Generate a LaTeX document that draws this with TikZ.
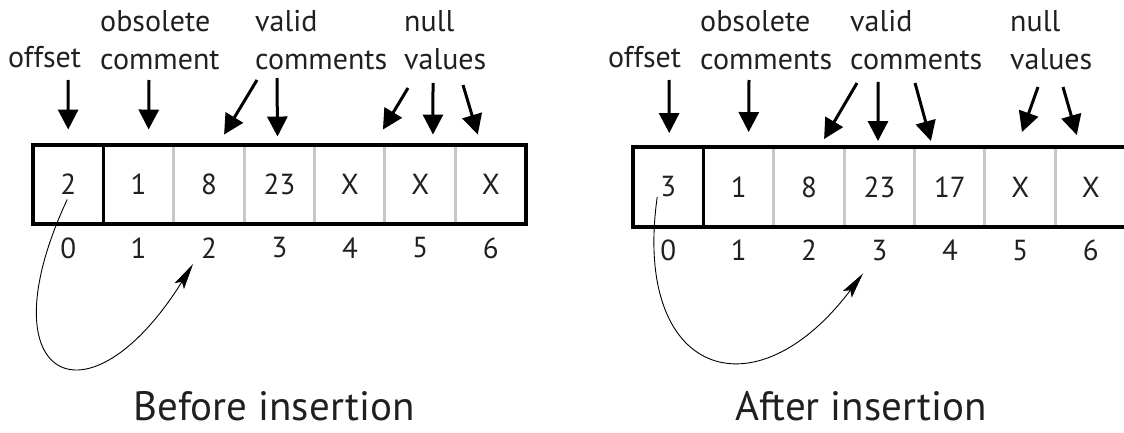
\documentclass[tikz,border=0pt]{standalone}
\usepackage{fontspec}
\setmainfont{PT Sans}
\usetikzlibrary{arrows.meta,positioning}
\definecolor{ink}{RGB}{35,31,32}
\definecolor{divgray}{RGB}{200,200,200}
\tikzset{
  cell/.style={minimum width=70.43pt,minimum height=79.5pt,inner sep=0pt,font=\fontsize{29}{32}\selectfont},
  idx/.style={inner sep=0pt,font=\fontsize{29}{32}\selectfont},
  lbl/.style={anchor=south west,align=left,inner sep=0pt,font=\fontsize{30}{38}\selectfont},
  ttl/.style={anchor=base,inner sep=0pt,font=\fontsize{41}{45}\selectfont},
  blk/.style={line width=3pt,-{Triangle[length=20pt,width=20pt]}},
  hop/.style={line width=0.9pt,-{Stealth[length=26pt,width=11pt,inset=5pt]}},
}
\begin{document}
\begin{tikzpicture}[x=1pt,y=1pt,text=ink]
  \useasboundingbox (0,0) rectangle (1124,432);
  % before insertion
  \foreach \v [count=\i from 0] in {2,1,8,23,X,X,X}
    \node[cell] (b\i) at ({33+70.43*(\i+0.5)},247.5) {\v};
  \foreach \i in {0,...,6}
    \node[idx,below=13pt of b\i] (bn\i) {\i};
  \foreach \i in {2,...,6}
    \draw[divgray,line width=3pt] (b\i.north west) -- (b\i.south west);
  \draw[line width=3pt] (b1.north west) -- (b1.south west);
  \draw[line width=4pt] (b0.north west) rectangle (b6.south east);
  \node[lbl] (boff) at (8,364) {offset};
  \node[lbl] (bobs) at (100,362) {obsolete\\comment};
  \node[lbl] (bval) at (255,362) {valid\\comments};
  \node[lbl] (bnul) at (404,362) {null\\values};
  \draw[blk] ([shift={(60,-12)}]boff.south west) -- ([shift={(0,15)}]b0.north);
  \draw[blk] ([shift={(49,-10)}]bobs.south west) -- ([shift={(10,15)}]b1.north);
  \draw[blk] ([shift={(2,-10)}]bval.south west) -- ([shift={(15,10)}]b2.north);
  \draw[blk] ([shift={(22,-8)}]bval.south west) -- ([shift={(-2,8)}]b3.north);
  \draw[blk] ([shift={(4,-18)}]bnul.south west) -- ([shift={(33,15)}]b4.north);
  \draw[blk] ([shift={(29,-13)}]bnul.south west) -- ([shift={(12.6,10)}]b5.north);
  \draw[blk] ([shift={(59,-15)}]bnul.south west) -- ([shift={(-13,10)}]b6.north);
  \draw[hop] ([shift={(-1,-15)}]b0.center) to[out=245,in=238,looseness=3.6] ([shift={(-16,-16)}]bn2.center);
  \node[ttl] (bttl) at (274,12) {Before insertion};
  % after insertion
  \foreach \v [count=\i from 0] in {3,1,8,23,17,X,X}
    \node[cell] (a\i) at ({633+70.43*(\i+0.5)},245) {\v};
  \foreach \i in {0,...,6}
    \node[idx,below=13pt of a\i] (an\i) {\i};
  \foreach \i in {2,...,6}
    \draw[divgray,line width=3pt] (a\i.north west) -- (a\i.south west);
  \draw[line width=3pt] (a1.north west) -- (a1.south west);
  \draw[line width=4pt] (a0.north west) rectangle (a6.south east);
  \node[lbl] (aoff) at (608,364) {offset};
  \node[lbl] (aobs) at (700,362) {obsolete\\comments};
  \node[lbl] (aval) at (850,362) {valid\\comments};
  \node[lbl] (anul) at (1010,362) {null\\values};
  \draw[blk] ([shift={(61,-12)}]aoff.south west) -- ([shift={(1,14)}]a0.north);
  \draw[blk] ([shift={(49,-10)}]aobs.south west) -- ([shift={(10,15)}]a1.north);
  \draw[blk] ([shift={(7,-13)}]aval.south west) -- ([shift={(15,8)}]a2.north);
  \draw[blk] ([shift={(28,-12)}]aval.south west) -- ([shift={(-1.5,6)}]a3.north);
  \draw[blk] ([shift={(65,-13)}]aval.south west) -- ([shift={(-19,6)}]a4.north);
  \draw[blk] ([shift={(28,-17)}]anul.south west) -- ([shift={(1.6,15)}]a5.north);
  \draw[blk] ([shift={(53,-17)}]anul.south west) -- ([shift={(-14,12)}]a6.north);
  \draw[hop] ([shift={(-11,-10)}]a0.center) to[out=262,in=233,looseness=2.1] ([shift={(-16.5,-23)}]an3.center);
  \node[ttl] (attl) at (861,12) {After insertion};
\end{tikzpicture}
\end{document}
